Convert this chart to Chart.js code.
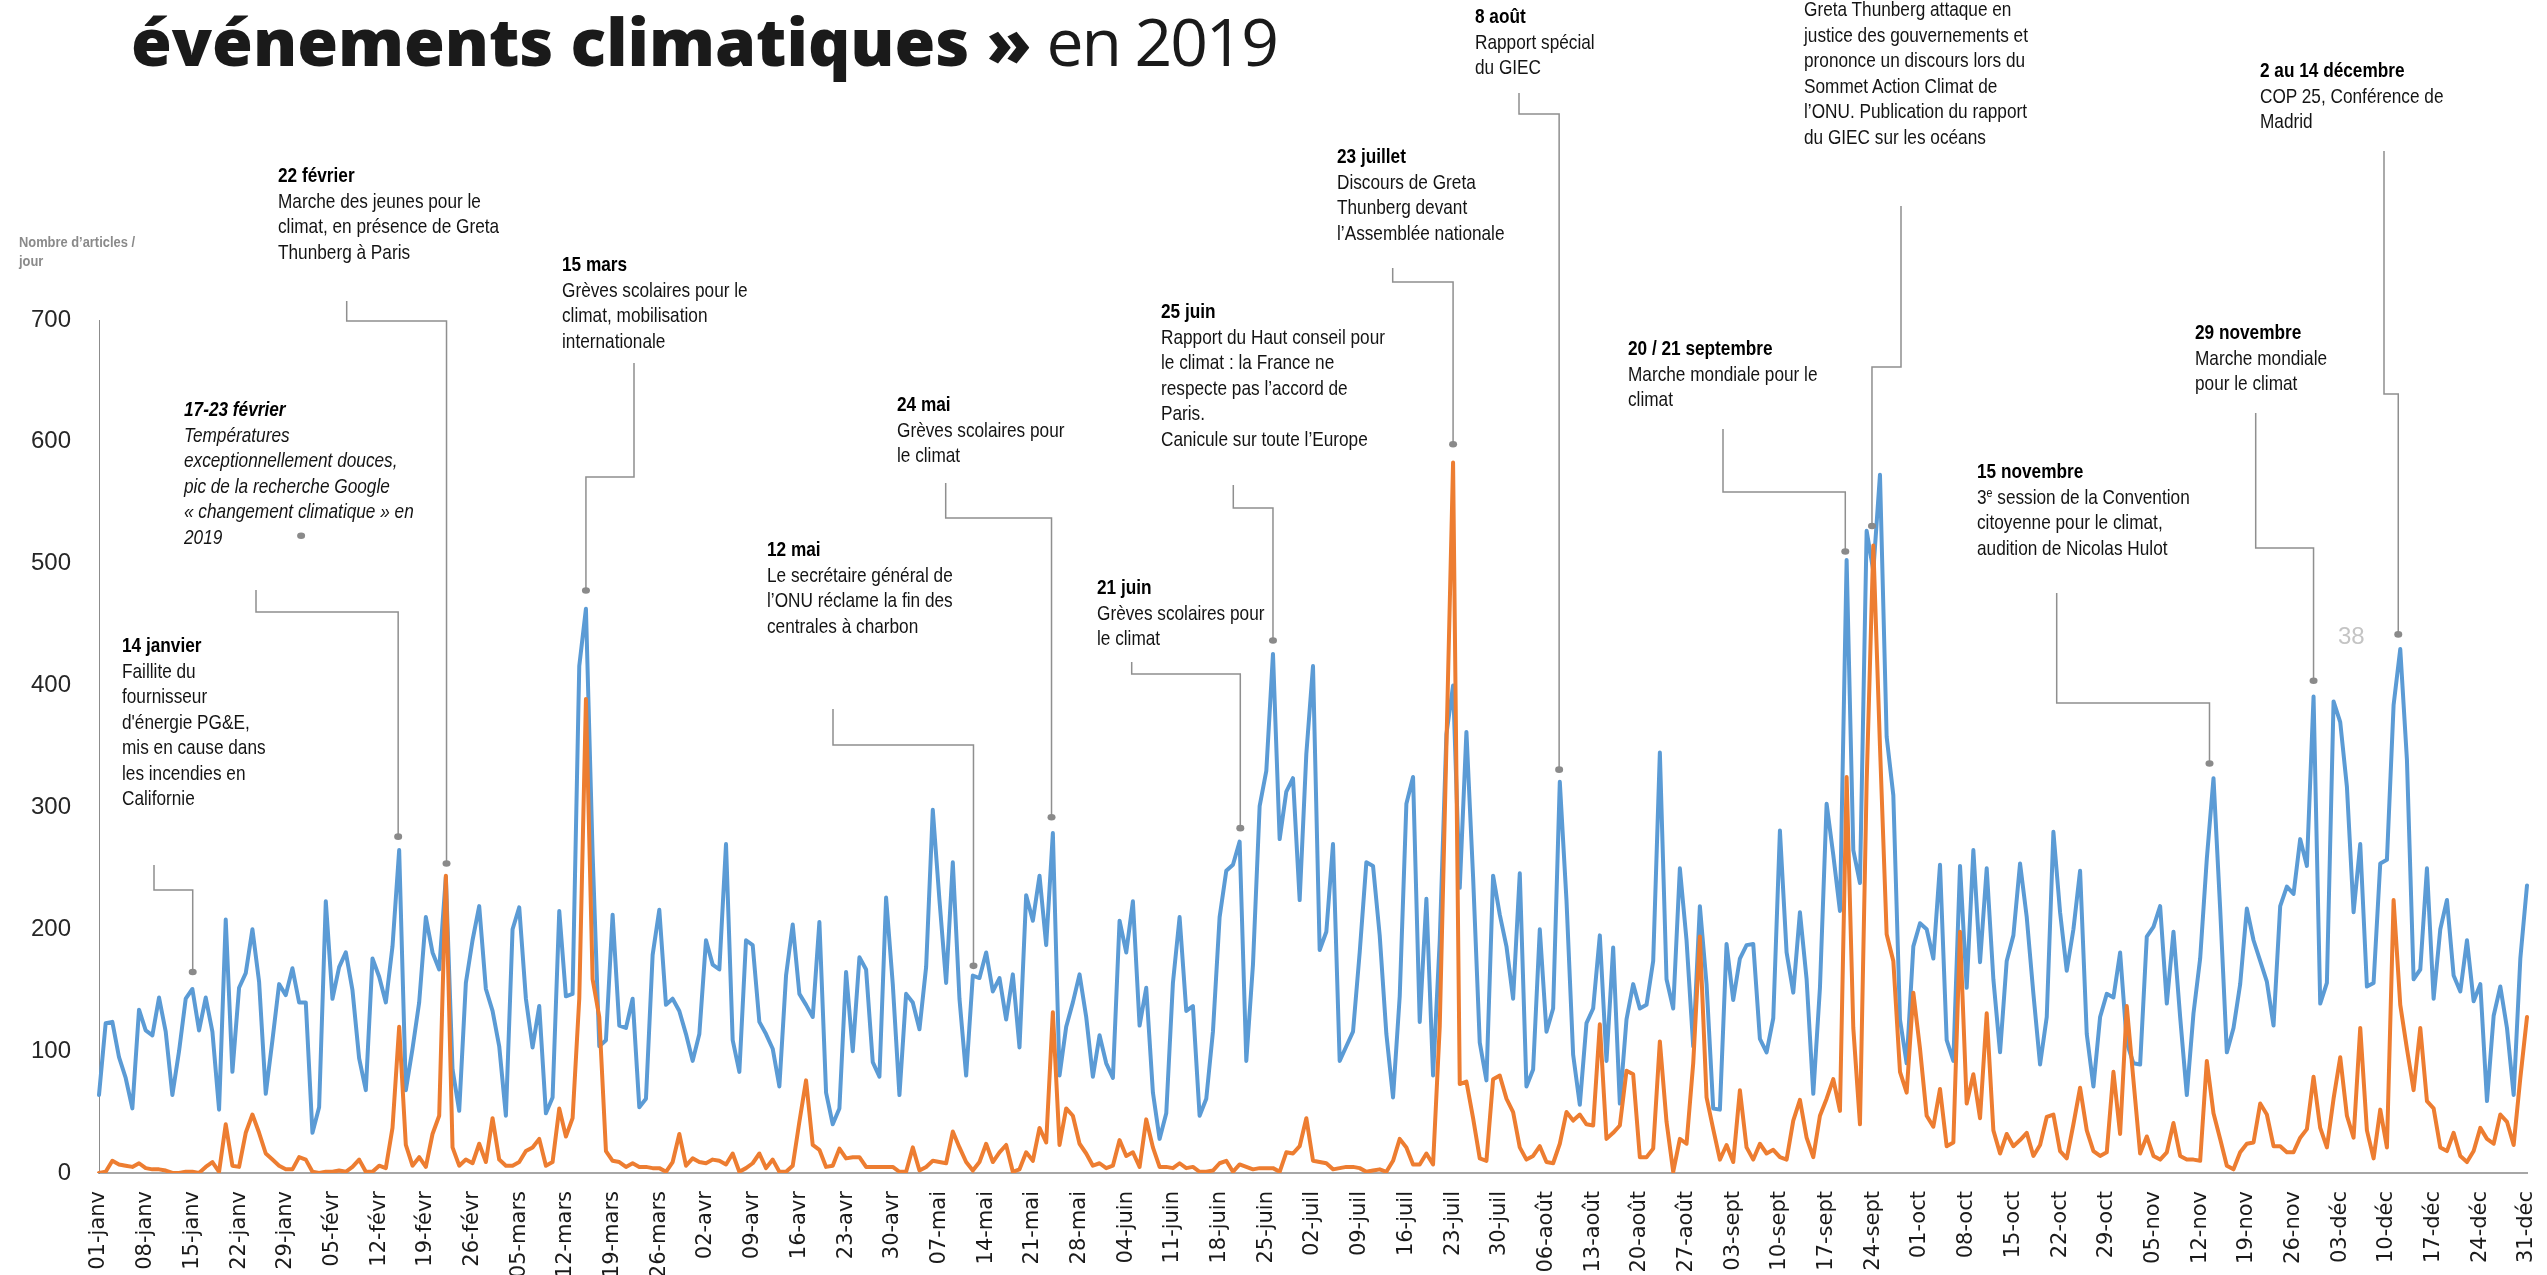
<!DOCTYPE html>
<html><head><meta charset="utf-8">
<script src="https://cdn.jsdelivr.net/npm/chart.js@4/dist/chart.umd.min.js"></script>
<style>
html,body{margin:0;padding:0;background:#fff;overflow:hidden;}
#wrap{position:relative;width:2547px;height:1275px;overflow:hidden;background:#fff;}
#c{position:absolute;left:0;top:0;}
.note{position:absolute;font-family:'Liberation Sans Narrow','Arial Narrow','Liberation Sans',sans-serif;font-size:21px;line-height:25.5px;color:#141414;white-space:nowrap;transform:scaleX(0.82);transform-origin:0 0;}
.note b{font-weight:bold;color:#000;}
.note.it{font-style:italic;}
.note sup{font-size:13px;line-height:0;vertical-align:7px;}
#title{position:absolute;left:131px;top:0px;font-family:'Open Sans','Noto Sans',sans-serif;font-size:66px;line-height:80px;color:#1a1a1a;white-space:nowrap;}
#title b{font-weight:800;}
#title span{font-weight:400;letter-spacing:-2.2px;}
#ytitle{position:absolute;left:19px;top:233px;font-family:'Liberation Sans Narrow','Arial Narrow','Liberation Sans',sans-serif;font-weight:bold;font-size:14px;line-height:19px;color:#8a8a8a;white-space:nowrap;transform:scaleX(0.92);transform-origin:0 0;}
#pg{position:absolute;left:2338px;top:622px;font-family:'Liberation Sans',sans-serif;font-size:24px;color:#c4c4c4;}
</style></head>
<body>
<div id="wrap">
<canvas id="c" width="2547" height="1275"></canvas>
<div id="title"><b>événements climatiques »</b><span> en 2019</span></div>
<div id="ytitle">Nombre d’articles /<br>jour</div>
<div id="pg">38</div>
</div>
<script>
// ---- Data ----
const tickLabels = ['01-janv','08-janv','15-janv','22-janv','29-janv','05-févr','12-févr','19-févr','26-févr','05-mars','12-mars','19-mars','26-mars','02-avr','09-avr','16-avr','23-avr','30-avr','07-mai','14-mai','21-mai','28-mai','04-juin','11-juin','18-juin','25-juin','02-juil','09-juil','16-juil','23-juil','30-juil','06-août','13-août','20-août','27-août','03-sept','10-sept','17-sept','24-sept','01-oct','08-oct','15-oct','22-oct','29-oct','05-nov','12-nov','19-nov','26-nov','03-déc','10-déc','17-déc','24-déc','31-déc'];

const blueValues = [
64,123,124,95,78,53,134,117,113,144,
116,64,100,143,151,117,144,116,52,208,
83,152,164,200,157,65,109,155,146,168,
140,140,33,54,223,143,169,181,150,94,
68,176,161,140,186,265,68,102,140,210,
181,167,243,85,51,156,191,219,151,133,
104,47,200,218,143,103,137,49,62,215,
145,147,416,463,262,104,109,212,121,119,
143,54,61,179,216,138,143,133,114,92,
114,191,171,167,270,109,83,191,187,124,
114,102,71,162,204,147,138,128,206,66,
40,53,165,100,177,167,91,79,226,155,
64,147,140,118,169,298,224,156,255,143,
80,162,160,181,149,160,126,163,103,228,
207,244,187,279,80,120,140,163,128,79,
113,90,78,207,181,223,121,152,66,28,
49,156,210,133,137,47,61,116,210,248,
253,272,92,171,301,330,426,274,313,324,
224,344,416,183,198,270,92,104,116,181,
255,252,195,114,62,145,303,325,124,225,
80,191,360,400,234,362,243,107,76,244,
212,186,143,246,71,85,200,116,135,321,
224,97,56,123,135,195,92,185,57,126,
155,135,138,174,345,159,135,250,191,104,
219,155,53,52,188,142,176,187,188,110,
99,127,281,181,148,214,159,65,152,303,
261,215,503,265,238,527,494,573,358,310,
126,90,186,205,200,176,253,109,92,252,
152,265,173,250,159,99,174,195,254,210,
147,89,128,280,214,166,200,248,114,71,
128,147,144,181,107,90,89,194,202,219,
139,198,128,64,131,176,258,324,217,99,
119,155,217,191,174,157,121,219,235,229,
274,252,391,139,156,387,370,317,214,270,
153,156,254,257,384,430,339,159,167,250,
143,200,224,162,149,191,141,155,59,129,
153,119,64,176,236];

const orangeValues = [
0,1,10,7,6,5,8,4,3,3,
2,0,0,1,1,0,5,9,1,40,
6,5,33,48,33,16,11,6,3,3,
13,11,1,0,1,1,2,1,5,11,
1,1,6,4,37,120,23,6,13,5,
32,47,244,21,6,11,8,24,9,45,
11,6,6,9,18,21,28,6,9,53,
30,45,143,389,159,128,18,10,9,5,
8,5,5,4,4,1,9,32,6,12,
9,8,11,10,7,16,1,4,8,16,
4,11,1,1,6,42,76,23,19,5,
6,20,12,13,13,5,5,5,5,5,
1,1,21,2,5,10,9,8,34,21,
9,2,9,24,9,17,23,1,3,17,
10,37,25,132,23,53,47,24,16,6,
8,4,6,27,14,17,5,44,21,5,
5,4,8,4,5,1,1,2,8,10,
1,7,5,3,4,4,4,1,17,16,
22,45,10,9,8,3,4,5,5,4,
1,2,3,1,10,28,21,7,7,16,
7,120,350,583,73,75,45,12,10,77,
80,61,50,21,11,14,22,9,8,24,
50,43,48,40,39,122,28,33,39,84,
81,13,13,20,108,42,1,28,24,90,
194,62,36,11,23,9,68,21,11,24,
16,19,13,11,43,60,29,13,47,61,
77,51,325,119,40,320,515,350,196,174,
83,66,148,102,47,38,69,22,25,198,
57,81,45,131,35,16,32,22,27,33,
14,23,46,48,18,12,40,70,35,18,
14,17,83,32,137,76,16,30,14,11,
17,41,14,11,11,10,92,49,28,6,
3,17,24,25,57,48,22,22,17,17,
29,36,79,37,21,61,95,47,29,119,
35,12,52,21,224,138,102,68,119,59,
53,21,18,33,14,9,18,37,28,24,
48,42,23,78,128];

const yTicks = [0,100,200,300,400,500,600,700];

// ---- Annotations (text + leader to a day / value) ----
const notes = [
 {left:122, base:652, lines:['<b>14 janvier</b>','Faillite du','fournisseur','d\'énergie PG&amp;E,','mis en cause dans','les incendies en','Californie'],
  lead:{x:154, y:865, ey:890, day:14.05, val:165}},
 {left:184, base:416, it:true, lines:['<b>17-23 février</b>','Températures','exceptionnellement douces,','pic de la recherche Google','« changement climatique » en','2019'],
  lead:{x:256, y:590, ey:612, day:44.85, val:276}, extraDot:{day:30.3, val:523}},
 {left:278, base:182, lines:['<b>22 février</b>','Marche des jeunes pour le','climat, en présence de Greta','Thunberg à Paris'],
  lead:{x:346.7, y:301, ey:321, day:52.1, val:254}},
 {left:562, base:271, lines:['<b>15 mars</b>','Grèves scolaires pour le','climat, mobilisation','internationale'],
  lead:{x:634, y:363, ey:477, day:73, val:478}},
 {left:767, base:556, lines:['<b>12 mai</b>','Le secrétaire général de','l’ONU réclame la fin des','centrales à charbon'],
  lead:{x:833, y:709, ey:745, day:131.1, val:170}},
 {left:897, base:411, lines:['<b>24 mai</b>','Grèves scolaires pour','le climat'],
  lead:{x:945.7, y:483, ey:518, day:142.8, val:292}},
 {left:1097, base:594, lines:['<b>21 juin</b>','Grèves scolaires pour','le climat'],
  lead:{x:1131.7, y:662, ey:674, day:171.1, val:283}},
 {left:1161, base:318, lines:['<b>25 juin</b>','Rapport du Haut conseil pour','le climat : la France ne','respecte pas l’accord de','Paris.','Canicule sur toute l’Europe'],
  lead:{x:1233.3, y:485, ey:508, day:176, val:437}},
 {left:1337, base:163, lines:['<b>23 juillet</b>','Discours de Greta','Thunberg devant','l’Assemblée nationale'],
  lead:{x:1392.7, y:268, ey:282, day:203, val:598}},
 {left:1475, base:23, lines:['<b>8 août</b>','Rapport spécial','du GIEC'],
  lead:{x:1519, y:93, ey:114, day:218.9, val:331}},
 {left:1804, base:16, lines:['Greta Thunberg attaque en','justice des gouvernements et','prononce un discours lors du','Sommet Action Climat de','l’ONU. Publication du rapport','du GIEC sur les océans'],
  lead:{x:1901, y:206, ey:367, day:265.8, val:531}},
 {left:1628, base:355, lines:['<b>20 / 21 septembre</b>','Marche mondiale pour le','climat'],
  lead:{x:1723, y:429, ey:492, day:261.8, val:510}},
 {left:1977, base:478, lines:['<b>15 novembre</b>','3<sup>e</sup> session de la Convention','citoyenne pour le climat,','audition de Nicolas Hulot'],
  lead:{x:2056.7, y:593, ey:703, day:316.4, val:336}},
 {left:2195, base:339, lines:['<b>29 novembre</b>','Marche mondiale','pour le climat'],
  lead:{x:2255.7, y:413, ey:548, day:332, val:404}},
 {left:2260, base:77, lines:['<b>2 au 14 décembre</b>','COP 25, Conférence de','Madrid'],
  lead:{x:2384, y:151, ey:394, day:344.7, val:442}}
];

const wrap = document.getElementById('wrap');
notes.forEach(n => {
  const d = document.createElement('div');
  d.className = 'note' + (n.it ? ' it' : '');
  d.style.left = n.left + 'px';
  d.style.top = (n.base - 20) + 'px';
  d.innerHTML = n.lines.join('<br>');
  wrap.appendChild(d);
});

const dayLabels = blueValues.map((_, i) => (i % 7 === 0 ? tickLabels[i / 7] : ''));

const leaderPlugin = {
  id: 'leaders',
  afterDatasetsDraw(chart) {
    const {ctx, scales: {x, y}} = chart;
    const xAt = d => {
      const i = Math.floor(d), f = d - i;
      const a = x.getPixelForValue(i), b = x.getPixelForValue(Math.min(i + 1, dayLabels.length - 1));
      return a + (b - a) * f;
    };
    const dot = (px, py) => { ctx.beginPath(); ctx.ellipse(px, py, 4, 3.3, 0, 0, Math.PI * 2); ctx.fill(); };
    ctx.save();
    ctx.strokeStyle = '#8f8f8f';
    ctx.fillStyle = '#8a8a8a';
    ctx.lineWidth = 1.5;
    notes.forEach(n => {
      const L = n.lead;
      if (L) {
        const dx = xAt(L.day), dy = y.getPixelForValue(L.val);
        ctx.beginPath();
        ctx.moveTo(L.x, L.y);
        ctx.lineTo(L.x, L.ey);
        ctx.lineTo(dx, L.ey);
        ctx.lineTo(dx, dy);
        ctx.stroke();
        dot(dx, dy);
      }
      if (n.extraDot) dot(xAt(n.extraDot.day), y.getPixelForValue(n.extraDot.val));
    });
    ctx.restore();
  }
};

new Chart(document.getElementById('c'), {
  type: 'line',
  data: {
    labels: dayLabels,
    datasets: [
      {label: 'Série orange', data: orangeValues, borderColor: '#ED7D31', borderWidth: 4, pointRadius: 0, tension: 0, order: 0, borderJoinStyle: 'round', borderCapStyle: 'round'},
      {label: 'Série bleue', data: blueValues, borderColor: '#5B9BD5', borderWidth: 4, pointRadius: 0, tension: 0, order: 1, borderJoinStyle: 'round', borderCapStyle: 'round'}
    ]
  },
  options: {
    responsive: false,
    devicePixelRatio: 1,
    animation: false,
    layout: {padding: {left: 0, right: 20, top: 320, bottom: 0}},
    plugins: {legend: {display: false}, tooltip: {enabled: false}},
    scales: {
      x: {
        type: 'category',
        grid: {display: false, drawTicks: false},
        border: {display: true, color: '#a6a6a6', width: 2},
        ticks: {autoSkip: false, maxRotation: 90, minRotation: 90, padding: 18,
          font: {family: 'DejaVu Sans', size: 21}, color: '#1a1a1a',
          callback: (v, i) => dayLabels[i]},
        afterFit: s => { s.height = 102; s.paddingLeft = 0; s.paddingRight = 0; }
      },
      y: {
        min: 0, max: 700,
        grid: {display: false, drawTicks: false},
        border: {display: true, color: '#8c8c8c', width: 1},
        ticks: {stepSize: 100, padding: 28, font: {family: 'Liberation Sans', size: 24}, color: '#262626',
          callback: v => (yTicks.includes(v) ? String(v) : '')},
        afterFit: s => { s.width = 99; }
      }
    }
  },
  plugins: [leaderPlugin]
});
</script>
</body></html>
